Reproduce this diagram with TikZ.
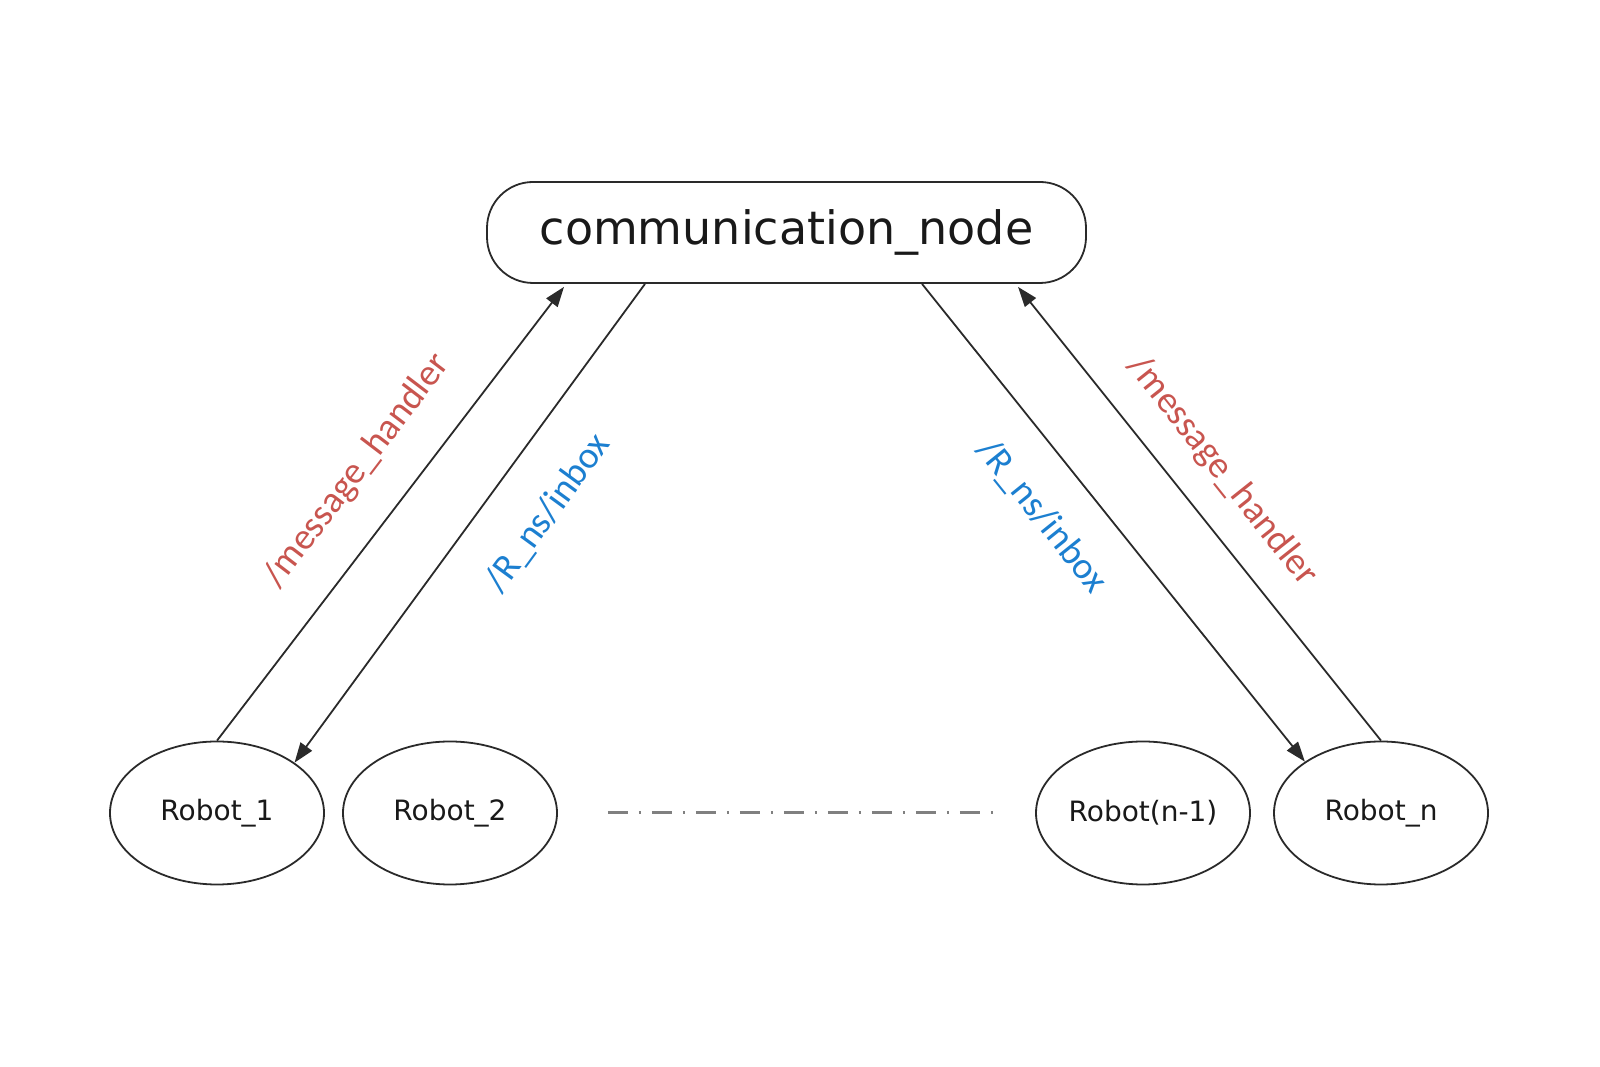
\documentclass[tikz,border=0pt]{standalone}
\usepackage{fontspec}
\setmainfont{DejaVu Sans}
\newfontfamily\labelfont{Carlito}
\usetikzlibrary{arrows.meta,calc,shapes.geometric}
\definecolor{lblred}{HTML}{C8554F}
\definecolor{lblblue}{HTML}{1C7FD0}
\definecolor{edgegray}{HTML}{2A2A2A}
\begin{document}
\begin{tikzpicture}[x=1pt,y=1pt,
  hub/.style={draw=edgegray, line width=1.8pt, rounded corners=46pt, minimum width=599pt, minimum height=101pt, inner sep=0pt, font=\fontsize{46}{50}\selectfont, text=black!90},
  robot/.style={draw=edgegray, line width=1.8pt, ellipse, minimum width=214pt, minimum height=143pt, inner sep=0pt, font=\fontsize{28}{30}\selectfont, text=black!90},
  link/.style={draw=edgegray, line width=1.8pt, -{Triangle[length=20pt,width=14pt]}},
  redlbl/.style={text=lblred, font=\labelfont\fontsize{37.5}{40}\selectfont, inner sep=0pt},
  bluelbl/.style={text=lblblue, font=\labelfont\fontsize{37.5}{40}\selectfont, inner sep=0pt},
  dots/.style={draw=gray, line width=3pt, dash pattern=on 20pt off 11pt on 2pt off 11pt}
]
\useasboundingbox (0,0) rectangle (1600,1067);
\node[hub] (cn) at (786.5,834.5) {\raisebox{-4pt}{communication\_node}};
\node[robot] (r1) at (217,254) {\raisebox{-3pt}{Robot\_1}};
\node[robot] (r2) at (450,254) {\raisebox{-3pt}{Robot\_2}};
\node[robot] (rn1) at (1143,254) {\raisebox{-3pt}{Robot(n-1)}};
\node[robot] (rn) at (1381,254) {\raisebox{-3pt}{Robot\_n}};

\draw[link] (r1.90) -- ($(cn.south)+(-222.5,-3)$);
\draw[link] ($(cn.south)+(-141.5,0)$) -- (r1.33);
\draw[link] ($(cn.south)+(135.5,0)$) -- (rn.146);
\draw[link] (rn.90) -- ($(cn.south)+(231.5,-3)$);

\draw[dots] ($(r2.east)+(50,0)$) -- ($(rn1.west)+(-36,0)$);

\node[redlbl, rotate=52.7] (mh1) at (357,596) {/message\_handler};
\node[bluelbl, rotate=53.8] (ib1) at (548,554) {/R\_ns/inbox};
\node[bluelbl, rotate=-51.2] (ib2) at (1042,551) {/R\_ns/inbox};
\node[redlbl, rotate=-51.5] (mh2) at (1222,596) {/message\_handler};
\end{tikzpicture}
\end{document}
